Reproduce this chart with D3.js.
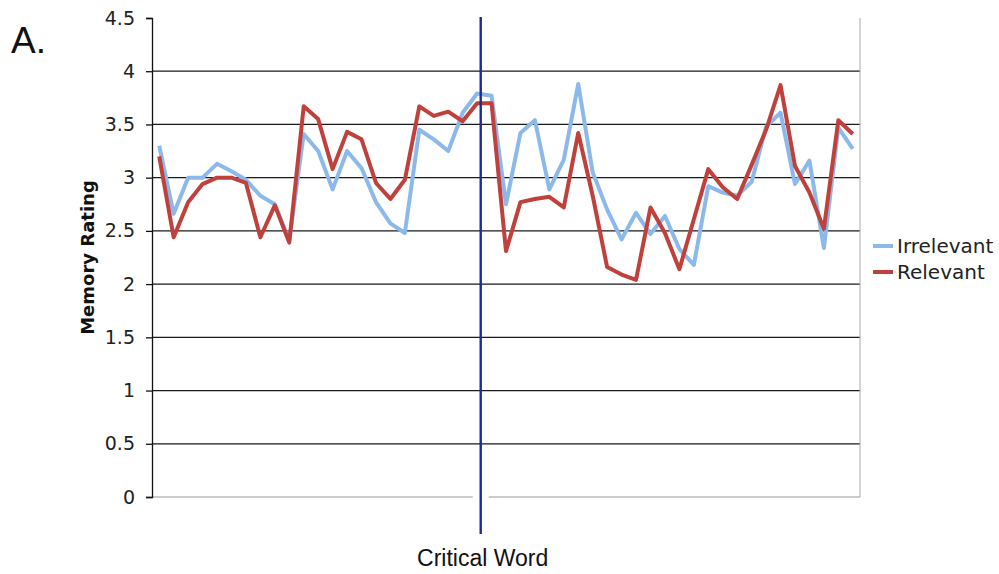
<!DOCTYPE html>
<html>
<head>
<meta charset="utf-8">
<script src="https://cdnjs.cloudflare.com/ajax/libs/d3/7.8.5/d3.min.js"></script>
<style>
    body { margin: 0; background: #fff; }
</style>
</head>
<body>
<div class="svgMemory"></div>
<script>
// values
var yTicks = [0, 0.5, 1, 1.5, 2, 2.5, 3, 3.5, 4, 4.5];
var seriesNames = ["Irrelevant", "Relevant"];
var seriesColors = ["#8cb9ec", "#c0413c"];

var irrelevant = [3.30, 2.66, 3.00, 3.00, 3.13, 3.06, 2.98, 2.83, 2.75, 2.41,
                  3.41, 3.25, 2.89, 3.25, 3.09, 2.77, 2.57, 2.48, 3.45, 3.36,
                  3.25, 3.61, 3.79, 3.77, 2.75, 3.42, 3.54, 2.89, 3.17, 3.88,
                  3.05, 2.70, 2.42, 2.67, 2.47, 2.64, 2.33, 2.18, 2.92, 2.86,
                  2.83, 2.96, 3.48, 3.61, 2.94, 3.16, 2.34, 3.47, 3.27];
var relevant   = [3.20, 2.44, 2.77, 2.94, 3.00, 3.00, 2.95, 2.44, 2.74, 2.39,
                  3.67, 3.55, 3.08, 3.43, 3.36, 2.95, 2.80, 2.98, 3.67, 3.58,
                  3.62, 3.53, 3.70, 3.70, 2.31, 2.77, 2.80, 2.82, 2.72, 3.42,
                  2.83, 2.16, 2.09, 2.04, 2.72, 2.48, 2.14, 2.61, 3.08, 2.91,
                  2.80, 3.12, 3.45, 3.87, 3.11, 2.86, 2.52, 3.54, 3.41];
// word positions; the critical word line sits a little after word 23
var words = d3.range(1, irrelevant.length + 1);
var criticalWord = 23.25;

function drawChart() {
    var width = 999, height = 574;
    var left = 152, right = 860, top = 18, bottom = 497;

    var svg = d3.select(".svgMemory").append("svg")
        .attr("width", width).attr("height", height)
        .style("font-family", "'DejaVu Sans', Verdana, sans-serif");

    var xScale = d3.scalePoint().domain(words).range([left, right]).padding(0.5);
    var yScale = d3.scaleLinear().domain([0, 4.5]).range([bottom, top]);
    var xCritical = xScale(Math.floor(criticalWord)) + (criticalWord % 1) * xScale.step();

    // horizontal grid lines
    svg.append("g").selectAll("line")
        .data(yTicks.filter(function(d) { return d > 0 && d < 4.5; }))
        .enter().append("line")
        .attr("x1", left).attr("x2", right)
        .attr("y1", function(d) { return yScale(d); })
        .attr("y2", function(d) { return yScale(d); })
        .attr("stroke", "#1a1a1a").attr("stroke-width", 1.3);

    // right border and bottom line
    svg.append("line")
        .attr("x1", right).attr("x2", right).attr("y1", top).attr("y2", bottom)
        .attr("stroke", "#aaa").attr("stroke-width", 1);
    svg.append("line")
        .attr("x1", left).attr("x2", right).attr("y1", bottom).attr("y2", bottom)
        .attr("stroke", "#999").attr("stroke-width", 1.2);
    svg.append("line")
        .attr("x1", xCritical - 8).attr("x2", xCritical + 8)
        .attr("y1", bottom).attr("y2", bottom)
        .attr("stroke", "#fff").attr("stroke-width", 3);

    // y axis
    var yAxis = svg.append("g")
        .attr("transform", "translate(" + left + ",0)")
        .call(d3.axisLeft(yScale).tickValues(yTicks).tickSize(6).tickPadding(11)
            .tickFormat(function(d) { return d; }));
    yAxis.select(".domain").attr("stroke", "#111").attr("stroke-width", 1.3);
    yAxis.selectAll(".tick line").attr("stroke", "#111").attr("stroke-width", 1.3);
    yAxis.selectAll(".tick text")
        .attr("fill", "#222")
        .style("font-size", "19px")
        .style("font-family", "'DejaVu Sans', Verdana, sans-serif");

    // data lines
    var allSeries = [irrelevant, relevant];
    var line = d3.line()
        .x(function(d, i) { return xScale(words[i]); })
        .y(function(d) { return yScale(d); });

    svg.append("g").selectAll("path")
        .data(allSeries)
        .enter().append("path")
        .attr("d", line)
        .attr("fill", "none")
        .attr("stroke", function(d, i) { return seriesColors[i]; })
        .attr("stroke-width", 4)
        .attr("stroke-linejoin", "round");

    // critical word marker
    svg.append("line")
        .attr("x1", xCritical).attr("x2", xCritical)
        .attr("y1", top - 1).attr("y2", 534)
        .attr("stroke", "#1c2a94").attr("stroke-width", 2.4);

    svg.append("text")
        .attr("x", xCritical + 2).attr("y", 566)
        .attr("text-anchor", "middle")
        .style("font-family", "'Liberation Sans', Arial, sans-serif")
        .style("font-size", "23px")
        .attr("fill", "#111")
        .text("Critical Word");

    svg.append("text")
        .attr("transform", "translate(94," + ((top + bottom) / 2) + ") rotate(-90)")
        .attr("text-anchor", "middle")
        .style("font-size", "18px")
        .style("font-weight", "bold")
        .attr("fill", "#111")
        .text("Memory Rating");

    svg.append("text")
        .attr("x", 11).attr("y", 53)
        .style("font-family", "'Liberation Sans', Arial, sans-serif")
        .style("font-size", "37px")
        .attr("fill", "#111")
        .text("A.");

    // legend
    var legend = svg.append("g").selectAll("g")
        .data(seriesNames)
        .enter().append("g")
        .attr("transform", function(d, i) { return "translate(873," + (246 + i * 26) + ")"; });

    legend.append("line")
        .attr("x1", 0).attr("x2", 20)
        .attr("stroke", function(d, i) { return seriesColors[i]; })
        .attr("stroke-width", 4);

    legend.append("text")
        .attr("x", 24).attr("dy", "0.36em")
        .style("font-size", "20px")
        .attr("fill", "#222")
        .text(function(d) { return d; });
}

drawChart();
</script>
</body>
</html>
